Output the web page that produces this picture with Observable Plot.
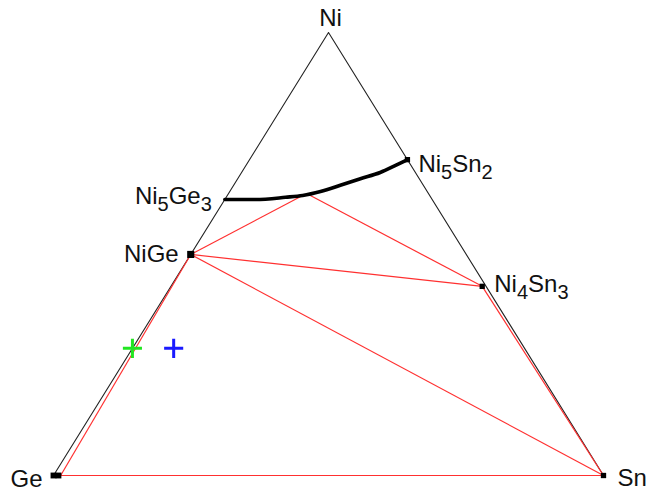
<!DOCTYPE html>
<html><head><meta charset="utf-8">
<script src="https://cdn.jsdelivr.net/npm/d3@7"></script>
<script src="https://cdn.jsdelivr.net/npm/@observablehq/plot@0.6"></script>
<style>html,body{margin:0;padding:0;background:#fff}#chart{width:646px;height:493px}</style>
</head><body><div id="chart"></div>
<script>
// Ternary compositions as fractions (Ni, Sn); Ge = 1 - Ni - Sn
const cornerNames = ["Ni", "Ge", "Sn"];
const cornerNi = [1, 0, 0];
const cornerSn = [0, 0, 1];

const phaseNames = ["Ni5Ge3", "NiGe", "Ni5Sn2", "Ni4Sn3"];
const phaseNi = [0.623, 0.499, 0.713, 0.427];
const phaseSn = [0.000, 0.000, 0.287, 0.566];

// Ni5Ge3–Ni5Sn2 solid-solution curve
const curveNi = [0.623, 0.623, 0.628, 0.632, 0.641, 0.655, 0.670, 0.684, 0.700, 0.712];
const curveSn = [0.000, 0.056, 0.108, 0.137, 0.165, 0.194, 0.223, 0.252, 0.272, 0.286];

// Tie lines: [Ni1, Sn1, Ni2, Sn2]
const tieFromNi = [0.632, 0.632, 0.499, 0.499, 0.427, 0.499, 0.000];
const tieFromSn = [0.137, 0.151, 0.000, 0.000, 0.566, 0.000, 0.009];
const tieToNi   = [0.499, 0.427, 0.427, 0.000, 0.000, 0.000, 0.000];
const tieToSn   = [0.000, 0.566, 0.566, 1.000, 1.000, 0.013, 1.000];

// Sample points
const sampleNi = [0.287, 0.287];
const sampleSn = [0.000, 0.075];
const sampleColor = ["#22e622", "#1a1aff"];

const X = (ni, sn) => sn + ni / 2;

const outline = [0, 1, 2, 0].map(i => ({x: X(cornerNi[i], cornerSn[i]), y: cornerNi[i]}));
const curve = curveNi.map((n, i) => ({x: X(n, curveSn[i]), y: n}));
const ties = tieFromNi.map((n, i) => ({
  x1: X(n, tieFromSn[i]), y1: n,
  x2: X(tieToNi[i], tieToSn[i]), y2: tieToNi[i]
}));
const samples = sampleNi.map((n, i) => ({x: X(n, sampleSn[i]), y: n, c: sampleColor[i]}));
const corners = cornerNames.map((name, i) => ({name, x: X(cornerNi[i], cornerSn[i]), y: cornerNi[i]}));
const phases = phaseNames.map((name, i) => ({name, x: X(phaseNi[i], phaseSn[i]), y: phaseNi[i]}));

const dots = [
  {x: X(0, 0), y: 0, r: 1.7}, {x: X(0, 0.009), y: 0, r: 1.7},
  {x: X(0, 1), y: 0, r: 1.4},
  {x: X(phaseNi[1], phaseSn[1]), y: phaseNi[1], r: 2.5},
  {x: X(phaseNi[3], phaseSn[3]), y: phaseNi[3], r: 1.4},
  {x: X(phaseNi[2], phaseSn[2]), y: phaseNi[2], r: 1.4}
];

// label offsets (pixels) relative to the point
const labelPos = {
  "Ni": {dx: 2, dy: -7, anchor: "middle"},
  "Ge": {dx: -11, dy: 11, anchor: "end"},
  "Sn": {dx: 14, dy: 10, anchor: "start"},
  "Ni5Ge3": {dx: -13, dy: 4, anchor: "end"},
  "NiGe": {dx: -12, dy: 8, anchor: "end"},
  "Ni5Sn2": {dx: 11, dy: 12, anchor: "start"},
  "Ni4Sn3": {dx: 12, dy: 6, anchor: "start"}
};
const labels = [...corners, ...phases];
const font = "'Liberation Sans', Arial, Helvetica, sans-serif";

const textMarks = labels.map(d => Plot.text([d], {
  x: "x", y: "y", text: "name",
  dx: labelPos[d.name].dx, dy: labelPos[d.name].dy,
  textAnchor: labelPos[d.name].anchor, lineAnchor: "bottom",
  fontSize: 24, fill: "#111", className: "lbl"
}));

const chart = Plot.plot({
  width: 646, height: 493,
  marginLeft: 53, marginRight: 43, marginTop: 32, marginBottom: 18,
  x: {domain: [0, 1], axis: null},
  y: {domain: [0, 1], axis: null},
  style: {fontFamily: font, background: "#fff"},
  marks: [
    Plot.line(outline, {x: "x", y: "y", stroke: "#222", strokeWidth: 1.1}),
    Plot.link(ties, {x1: "x1", y1: "y1", x2: "x2", y2: "y2", stroke: "#ff3030", strokeWidth: 1.2}),
    Plot.line(curve, {x: "x", y: "y", curve: "monotone-x", stroke: "#000", strokeWidth: 3.6}),
    Plot.dot(dots, {x: "x", y: "y", r: "r", symbol: "square", fill: "#000"}),
    Plot.dot(samples, {x: "x", y: "y", symbol: "plus", r: 6.2, stroke: "c", strokeWidth: 3}),
    ...textMarks
  ]
});
chart.style.display = "block";
document.getElementById("chart").appendChild(chart);

// subscripts for the digits in the phase names
d3.select(chart).selectAll("g.lbl text").each(function() {
  const s = this.textContent;
  if (!/\d/.test(s)) return;
  const parts = s.match(/\d+|\D+/g);
  const t = d3.select(this);
  t.text(null);
  let sub = false;
  for (const p of parts) {
    const isDigit = /\d/.test(p);
    const ts = t.append("tspan").text(p);
    if (isDigit) { ts.attr("dy", 7).attr("font-size", 20); sub = true; }
    else if (sub) { ts.attr("dy", -7); sub = false; }
  }
});
</script></body></html>
